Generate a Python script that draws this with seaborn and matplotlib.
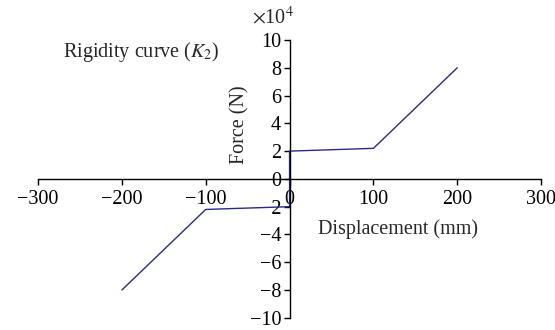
import matplotlib
matplotlib.use("Agg")
import matplotlib.pyplot as plt
import seaborn as sns
import pandas as pd

# Force–displacement path of the rigidity curve (force in units of 10^4 N)
displacement = [-200, -100, 0, 0, 100, 200]
force = [-8.0, -2.2, -2.0, 2.0, 2.2, 8.0]

x_ticks = [-300, -200, -100, 0, 100, 200, 300]
y_ticks = [-10, -8, -6, -4, -2, 0, 2, 4, 6, 8, 10]

sns.set_style("white")
plt.rcParams["font.family"] = ["Liberation Serif", "DejaVu Serif"]
plt.rcParams["mathtext.fontset"] = "stix"

df = pd.DataFrame({"Displacement": displacement, "Force": force})

fig = plt.figure(figsize=(5.55, 3.3), dpi=100)
ax = fig.add_axes([0.0685, 0.037, 0.9065, 0.8418])

sns.lineplot(data=df, x="Displacement", y="Force", sort=False, estimator=None,
             color="#2b2b85", linewidth=1.0, ax=ax)

ax.set_xlim(-300, 300)
ax.set_ylim(-10, 10)
ax.set_xticks(x_ticks)
ax.set_yticks(y_ticks)
ax.set_xticklabels([str(v).replace("-", "\u2212") for v in x_ticks])
ax.set_yticklabels([str(v).replace("-", "\u2212") for v in y_ticks])

for s in ("top", "right"):
    ax.spines[s].set_visible(False)
ax.spines["left"].set_position(("data", 0))
ax.spines["bottom"].set_position(("data", 0))
for s in ("left", "bottom"):
    ax.spines[s].set_color("black")
    ax.spines[s].set_linewidth(1.0)

fs = 14.5
ax.tick_params(axis="x", direction="out", length=4, width=1, pad=4,
               labelsize=fs, colors="black", bottom=True)
ax.tick_params(axis="y", direction="out", length=4, width=1, pad=2,
               labelsize=fs, colors="black", left=True)
ax.set_xlabel("")
ax.set_ylabel("")

ax.text(-59, 3.9, "Force (N)", rotation=90, ha="center", va="center", fontsize=fs)
ax.text(129, -3.6, "Displacement (mm)", ha="center", va="center", fontsize=fs)
ax.text(-177, 9.1, "Rigidity curve ($K_2$)", ha="center", va="center", fontsize=fs)
ax.text(-20, 11.6, r"$\times$10$^4$", ha="center", va="center", fontsize=fs, clip_on=False)

fig.savefig("out.png", dpi=100)
